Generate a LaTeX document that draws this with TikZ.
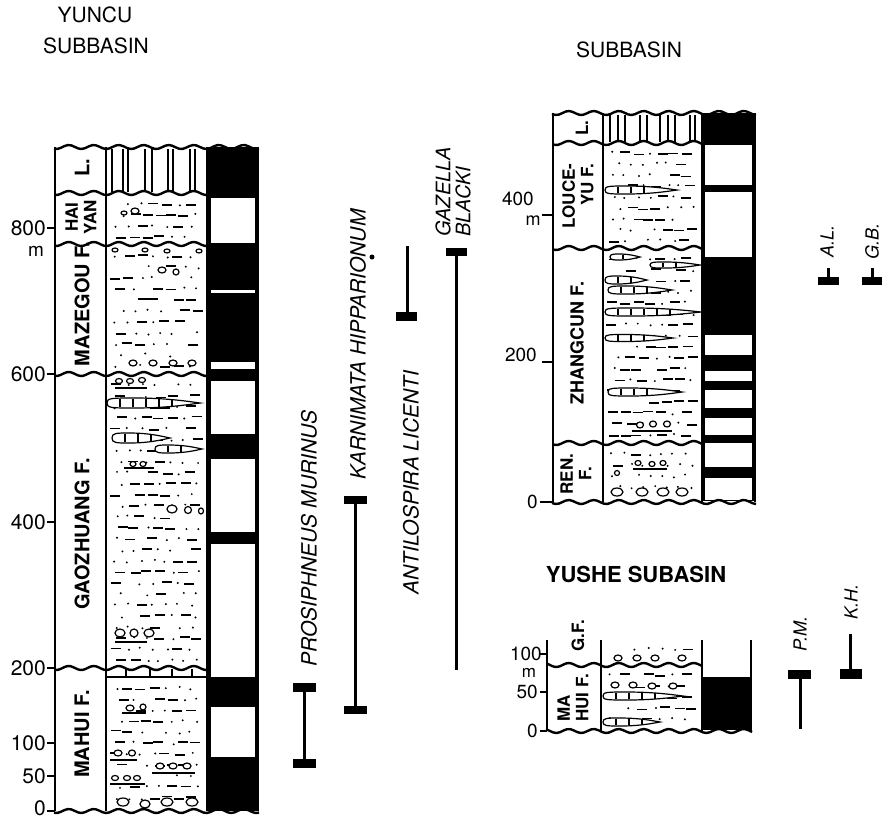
\documentclass[tikz,border=0pt]{standalone}
\usepackage{fontspec}
\setmainfont{TeX Gyre Heros}
\tikzset{
  colline/.style={line width=2.6pt},
  wavesty/.style={line width=2.4pt, line join=round},
  lithline/.style={line width=1.4pt},
  dsh/.style={line width=1.8pt},
  pebble/.style={line width=1.2pt, fill=white},
  rangebar/.style={line width=3pt},
  tickmark/.style={line width=1.8pt},
  fm/.style={rotate=90, font=\bfseries\fontsize{20}{21}\selectfont, inner sep=0pt},
  fms/.style={rotate=90, font=\bfseries\fontsize{17}{18.5}\selectfont, inner sep=0pt},
  spc/.style={rotate=90, font=\itshape\fontsize{21}{22}\selectfont, inner sep=0pt},
  spa/.style={rotate=90, font=\itshape\fontsize{18}{19}\selectfont, inner sep=0pt},
  scl/.style={font=\fontsize{21}{22}\selectfont, anchor=east, inner sep=0pt},
  scr/.style={font=\fontsize{19}{20}\selectfont, anchor=east, inner sep=0pt},
  ttl/.style={font=\fontsize{21}{23}\selectfont, inner sep=0pt},
}
\newcommand\wv[3]{\draw[wavesty] plot[domain=#1:#2, samples=60, smooth] (\x,{#3+2*sin(\x*14.4)});}
\newcommand\sed[6]{%
  \pgfmathsetseed{#6}%
  \pgfmathtruncatemacro\nr{(#4-#3-8)/11}%
  \pgfmathtruncatemacro\nc{round((#2-#1-22)/13)}%
  \pgfmathsetmacro\csp{(#2-#1-22)/\nc}%
  \foreach \i in {0,...,\nr}{%
    \foreach \j in {0,...,\nc}{%
      \pgfmathsetmacro\xx{#1+8+\j*\csp+mod(\i,2)*6+rand*2}%
      \pgfmathsetmacro\yy{#3+6+\i*11+rand*1.5}%
      \pgfmathrandominteger\k{0}{9}%
      \ifnum\k<#5\relax \draw[dsh] (\xx-5,\yy) -- (\xx+5,\yy);%
      \else\ifnum\k<9\relax \fill (\xx,\yy) circle (1.1);\fi\fi
    }}}
\newcommand\lens[4]{%
  \pgfmathsetmacro\la{#1+0.3*(#2-#1)}%
  \pgfmathsetmacro\lb{#1+0.65*(#2-#1)}%
  \pgfmathsetmacro\lc{#2-0.12*(#2-#1)}%
  \pgfmathsetmacro\lt{#3-#4}\pgfmathsetmacro\lbt{#3+#4}%
  \pgfmathsetmacro\lq{#3-0.3*#4}\pgfmathsetmacro\lqb{#3+0.3*#4}%
  \filldraw[pebble] (#1,#3) .. controls (#1,\lt) and (#1+4,\lt) .. (\la,\lt) .. controls (\lb,\lt) and (\lc,\lq) .. (#2,#3) .. controls (\lc,\lqb) and (\lb,\lbt) .. (\la,\lbt) .. controls (#1+4,\lbt) and (#1,\lbt) .. cycle;
  \pgfmathtruncatemacro\nt{0.7*(#2-#1)/13}%
  \ifnum\nt>0\relax
  \foreach \t in {1,...,\nt}{\draw[line width=1.1pt] ({#1+\t*13},{#3-0.8*#4}) -- ({#1+\t*13},{#3+0.8*#4});}%
  \fi}
\newcommand\pb[4]{\draw[pebble] (#1,#2) ellipse (#3 and #4);}
\begin{document}
\begin{tikzpicture}[x=1pt,y=-1pt]
\useasboundingbox (0,0) rectangle (882,820);

% ---------- titles
\node[ttl] (t1) at (95,15) {YUNCU};
\node[ttl] (t2) at (96,46) {SUBBASIN};
\node[ttl] (t3) at (629,50) {SUBBASIN};
\node[ttl, font=\bfseries\fontsize{22}{24}\selectfont] (t4) at (636,574) {YUSHE SUBASIN};

% ================= YUNCU column
\fill (207,147) rectangle (258,811);
\foreach \a/\b in {198/243,290/293,362/369,381/434,459/532,544/677,707/757}
  \fill[white] (210.5,\a) rectangle (255,\b);

\sed{108}{205}{198}{240}{4}{11}
\sed{108}{205}{250}{369}{5}{12}
\sed{108}{205}{379}{663}{4}{13}
\sed{108}{205}{682}{806}{4}{14}

\lens{107}{200}{403}{5}
\lens{112}{170}{438}{5}
\lens{155}{202}{449}{4}

\pb{124}{213}{3}{2}\pb{135}{211}{4}{3}
\pb{115}{250}{3}{2}\pb{145}{250}{3}{2}\pb{167}{251}{3}{2}\pb{199}{251}{3}{2}
\pb{162}{270}{4}{3}\pb{176}{272}{3}{3}
\pb{133}{363}{4}{3}\pb{153}{363}{4}{3}\pb{173}{363}{4}{3}\pb{192}{363}{4}{3}
\pb{119}{381}{3.5}{2.5}\pb{130}{381}{3.5}{2.5}\pb{142}{380}{3.5}{2.5}
\draw[dsh] (115,388) -- (147,388);
\pb{133}{464}{3}{2.5}\pb{143}{464}{3}{2.5}
\draw[dsh] (124,468) -- (154,468);
\pb{172}{509}{5}{4}\pb{188}{510}{3.5}{3.5}\pb{201}{511}{2.5}{3}
\pb{120}{633}{5}{4}\pb{134}{633}{4}{4}\pb{149}{633}{5}{4}
\draw[dsh] (115,642) -- (147,642);
\pb{130}{708}{4}{3}\pb{143}{707}{3}{3}
\draw[dsh] (122,713) -- (146,713);
\pb{118}{753}{4}{3}\pb{132}{753}{3.5}{3}
\draw[dsh] (110,760) -- (137,760);
\pb{160}{766}{4}{3}\pb{173}{766}{4}{3}\pb{187}{766}{4}{3}
\draw[dsh] (152,773) -- (195,773);
\pb{115}{778}{3.5}{2.5}\pb{127}{778}{3.5}{2.5}\pb{137}{778}{3.5}{2.5}
\draw[dsh] (110,784) -- (145,784);
\pb{123}{802}{6}{4}\pb{145}{804}{5}{4}\pb{167}{802}{6}{4}\pb{192}{802}{6}{4}

\foreach \x in {112,123,128,145,152,168,173,190,195}
  \draw[lithline] (\x,149) -- (\x,192);
\draw[lithline] (106,677) -- (207,677);
\foreach \x in {126,150,172,192}
  \draw[lithline] (\x,669) -- (\x,677);

\foreach \x in {55,106,207,258} \draw[colline] (\x,147) -- (\x,811);
\wv{54}{259}{147}\wv{54}{259}{811}
\wv{55}{207}{193}\wv{55}{207}{244}\wv{55}{207}{374}\wv{55}{207}{668}

\node[fm] (lyu) at (82,168) {L.};
\node[fms, align=center] (hy) at (81,217) {HAI\\YAN};
\node[fm] (mz) at (82,304) {MAZEGOU F.};
\node[fm] (gz) at (82,534) {GAOZHUANG F.};
\node[fm] (mh) at (82,734) {MAHUI F.};

\foreach \v/\n/\p in {228/800/228,374/600/374,522/400/522,668/200/668,743/100/743,776/50/776,811/0/808}{
  \draw[tickmark] (47,\v) -- (55,\v);
  \node[scl] (s\n) at (46,\p) {\n};}
\node[font=\fontsize{19}{20}\selectfont, inner sep=0pt] (smy) at (36,251) {m};

% ---------- range bars (Yuncu)
\draw[rangebar] (304,688) -- (304,763);
\fill (293,683) rectangle (316,692); \fill (293,759) rectangle (316,768);
\draw[rangebar] (355,500) -- (355,710);
\fill (344,496) rectangle (367,504); \fill (344,706) rectangle (367,714);
\draw[rangebar] (407,246) -- (407,316);
\fill (396,312) rectangle (417,321);
\draw[rangebar] (456,252) -- (456,670);
\fill (446,248) rectangle (467,256);
\fill (372,257) circle (2.5);

\node[spc, anchor=west] (pm) at (309,667) {PROSIPHNEUS MURINUS};
\node[spc, anchor=west] (kh) at (358,480) {KARNIMATA HIPPARIONUM};
\node[spc, anchor=west] (al) at (411,595) {ANTILOSPIRA LICENTI};
\node[spc, anchor=west, align=left, font=\itshape\fontsize{20}{20}\selectfont] (gb) at (453,237) {GAZELLA\\BLACKI};

% ================= ZHANGCUN column
\fill (702,113) rectangle (755,501);
\foreach \a/\b in {145/185,192/257,335/355,371/381,390/408,418/435,443/467,478/500}
  \fill[white] (705,\a) rectangle (751.5,\b);

\sed{605}{700}{147}{244}{4}{21}
\sed{605}{700}{253}{439}{5}{22}
\sed{605}{700}{448}{498}{1}{23}

\lens{605}{677}{190}{4}
\lens{610}{640}{257}{3}
\lens{650}{700}{265}{3}
\lens{605}{647}{280}{4}
\lens{608}{672}{290}{4}
\lens{605}{701}{312}{4}
\lens{605}{673}{338}{3.5}
\lens{608}{682}{392}{4}

\pb{640}{425}{3.5}{3}\pb{653}{424}{3.5}{3}\pb{667}{424}{3.5}{3}
\draw[dsh] (632,431) -- (672,431);
\pb{638}{463}{3}{2.5}\pb{652}{464}{3}{2.5}\pb{663}{463}{3}{2.5}
\draw[dsh] (633,469) -- (667,469);
\pb{617}{473}{2.5}{2.5}
\pb{617}{492}{6}{4}\pb{642}{492}{6}{4}\pb{663}{492}{6}{4}\pb{682}{492}{6}{4}

\foreach \x in {610,618,625,640,647,660,668,675,690,695}
  \draw[lithline] (\x,115) -- (\x,142);

\foreach \x in {553,603,702,755} \draw[colline] (\x,113) -- (\x,502);
\wv{552}{756}{113}\wv{552}{756}{502}
\wv{553}{702}{143}\wv{553}{702}{248}\wv{553}{702}{443}

\node[fms] (lz) at (582,128) {L.};
\node[fms, align=right] (lc) at (578,196) {LOUCE-\\YU F.};
\node[fm, font=\bfseries\fontsize{18}{19}\selectfont] (zc) at (577,343) {ZHANGCUN F.};
\node[fms, align=center] (rn) at (576,474) {REN.\\F.};

\node[scr] (z400) at (534,199) {400};
\node[font=\fontsize{18}{19}\selectfont, inner sep=0pt] (zm) at (533,221) {m};
\node[scr] (z200) at (537,355) {200};
\node[scr] (z0) at (538,502) {0};
\draw[tickmark] (542,215) -- (553,215);
\draw[tickmark] (542,362) -- (553,362);
\draw[tickmark] (540,502) -- (553,502);

\draw[rangebar] (828,268) -- (828,280);
\fill (818,277) rectangle (839,285);
\draw[rangebar] (872,268) -- (872,280);
\fill (862,277) rectangle (882,285);
\node[spa] (alab) at (827,241) {A.L.};
\node[spa] (gbab) at (872,241) {G.B.};

% ================= YUSHE column
\fill (702,677) rectangle (751,730);
\sed{603}{700}{643}{661}{3}{31}
\sed{603}{700}{669}{727}{4}{32}
\pb{618}{658}{4}{3}\pb{637}{658}{4}{3}\pb{655}{658}{4}{3}\pb{682}{658}{4}{3}
\pb{615}{685}{4}{3}\pb{633}{685}{4}{3}\pb{652}{686}{4}{3}\pb{673}{686}{4}{3}
\lens{603}{683}{696}{4}
\lens{603}{660}{722}{4}

\foreach \x in {547,601,702,751} \draw[colline] (\x,640) -- (\x,731);
\wv{547}{702}{665}\wv{546}{752}{731}

\node[fms] (gf) at (578,636) {G.F.};
\node[fms, align=left] (mhy) at (573,698) {MA\\HUI F.};

\node[scr] (y100) at (542,654) {100};
\node[font=\fontsize{17}{18}\selectfont, inner sep=0pt] (ym) at (529,673) {m};
\node[scr] (y50) at (538,692) {50};
\node[scr] (y0) at (538,731) {0};
\draw[tickmark] (540,654) -- (547,654);
\draw[tickmark] (540,692) -- (547,692);
\draw[tickmark] (540,731) -- (547,731);

\draw[rangebar] (800,679) -- (800,729);
\fill (788,670) rectangle (811,679);
\draw[rangebar] (850,634) -- (850,670);
\fill (840,669) rectangle (862,679);
\node[spa] (pmab) at (800,634) {P.M.};
\node[spa] (khab) at (851,602) {K.H.};
\end{tikzpicture}
\end{document}
